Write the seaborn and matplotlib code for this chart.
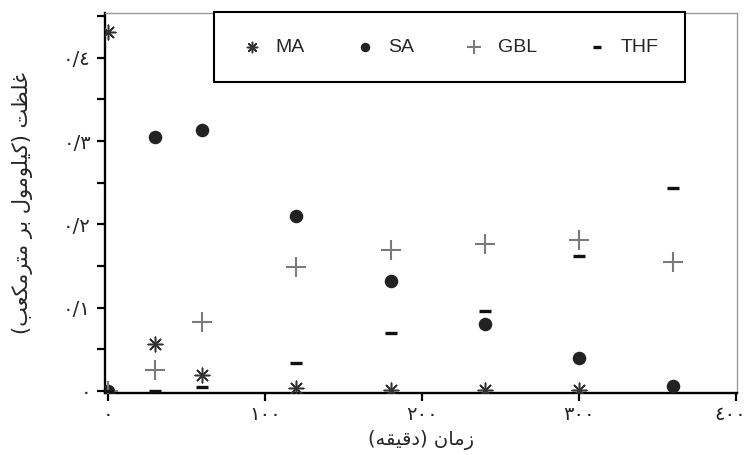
import numpy as np
import pandas as pd
import matplotlib
matplotlib.use("Agg")
import matplotlib.pyplot as plt
import matplotlib.transforms as mtransforms
import seaborn as sns
from matplotlib.ticker import FixedLocator, MultipleLocator

# ---------------- data ----------------
time_min = [0, 30, 60, 120, 180, 240, 300, 360]
ma_conc  = [0.431, 0.057, 0.019, 0.003, 0.001, 0.001, 0.001, np.nan]
sa_conc  = [0.0, 0.305, 0.313, 0.210, 0.132, 0.080, 0.040, 0.006]
gbl_conc = [0.0, 0.025, 0.083, 0.149, 0.169, 0.176, 0.181, 0.155]
thf_conc = [0.0, 0.0, 0.005, 0.034, 0.070, 0.096, 0.162, 0.244]
series_names = ["MA", "SA", "GBL", "THF"]

x_ticks = [0, 100, 200, 300, 400]
x_tick_labels = ["٠", "١٠٠", "٢٠٠", "٣٠٠", "٤٠٠"]
y_ticks = [0.0, 0.1, 0.2, 0.3, 0.4]
y_tick_labels = ["٠", "٠/١", "٠/٢", "٠/٣", "٠/٤"]

x_label = "زمان (دقیقه)"
y_label = "غلظت (کیلومول بر مترمکعب)"

# ------------- minimal Arabic/Persian shaping (matplotlib has no shaping/bidi) -------------
FORMS = {
    'ا': ('\uFE8D', '\uFE8E', None, None),
    'ب': ('\uFE8F', '\uFE90', '\uFE91', '\uFE92'),
    'ت': ('\uFE95', '\uFE96', '\uFE97', '\uFE98'),
    'د': ('\uFEA9', '\uFEAA', None, None),
    'ر': ('\uFEAD', '\uFEAE', None, None),
    'ز': ('\uFEAF', '\uFEB0', None, None),
    'ظ': ('\uFEC5', '\uFEC6', '\uFEC7', '\uFEC8'),
    'ع': ('\uFEC9', '\uFECA', '\uFECB', '\uFECC'),
    'غ': ('\uFECD', '\uFECE', '\uFECF', '\uFED0'),
    'ق': ('\uFED5', '\uFED6', '\uFED7', '\uFED8'),
    'ل': ('\uFEDD', '\uFEDE', '\uFEDF', '\uFEE0'),
    'م': ('\uFEE1', '\uFEE2', '\uFEE3', '\uFEE4'),
    'ن': ('\uFEE5', '\uFEE6', '\uFEE7', '\uFEE8'),
    'ه': ('\uFEE9', '\uFEEA', '\uFEEB', '\uFEEC'),
    'و': ('\uFEED', '\uFEEE', None, None),
    'ک': ('\uFB8E', '\uFB8F', '\uFB90', '\uFB91'),
    'ی': ('\uFBFC', '\uFBFD', '\uFBFE', '\uFBFF'),
}
RIGHT_ONLY = set('ادذرزژو')


def shape_rtl(text):
    out = []
    n = len(text)
    for i, ch in enumerate(text):
        if ch not in FORMS:
            out.append(ch)
            continue
        prev = text[i - 1] if i > 0 else ''
        nxt = text[i + 1] if i + 1 < n else ''
        jp = prev in FORMS and prev not in RIGHT_ONLY
        jn = nxt in FORMS and ch not in RIGHT_ONLY
        iso, fin, ini, med = FORMS[ch]
        if jp and jn:
            f = med
        elif jp:
            f = fin
        elif jn:
            f = ini
        else:
            f = iso
        out.append(f)
    vis = ''.join(reversed(out))
    return vis.translate(str.maketrans('()', ')('))


# ---------------- plot ----------------
sns.set_theme(style="white")
plt.rcParams['font.family'] = ['DejaVu Sans']

fig = plt.figure(figsize=(7.49, 4.55), dpi=100)
ax = fig.add_axes([0.140, 0.1363, 0.844, 0.8351])

sns.scatterplot(x=time_min, y=ma_conc, marker=(8, 2, 0), s=110, color="#333333",
                linewidth=1.1, edgecolor="#333333", label=series_names[0], ax=ax, zorder=3)
sns.scatterplot(x=time_min, y=sa_conc, marker="o", s=95, color="#222222",
                linewidth=0, label=series_names[1], ax=ax, zorder=3)
sns.scatterplot(x=time_min, y=gbl_conc, marker="+", s=200, color="#7a7a7a",
                linewidth=1.5, label=series_names[2], ax=ax, zorder=3)
sns.scatterplot(x=time_min, y=thf_conc, marker="_", s=70, color="#111111",
                linewidth=2.4, label=series_names[3], ax=ax, zorder=3)

ax.set_xlim(-2, 400.6)
ax.set_ylim(-0.0024, 0.4538)

ax.xaxis.set_major_locator(FixedLocator(x_ticks))
ax.set_xticklabels(x_tick_labels, fontsize=14)
ax.yaxis.set_major_locator(FixedLocator(y_ticks))
ax.yaxis.set_minor_locator(MultipleLocator(0.05))
ax.set_yticklabels(y_tick_labels, fontsize=14)

ax.tick_params(axis='both', which='both', direction='out', length=6, width=1.6,
               color='black', bottom=True, left=True)
ax.tick_params(axis='x', pad=3)
ax.tick_params(axis='y', pad=4)

# keep the last x tick label inside the figure
last_lbl = ax.get_xticklabels()[-1]
last_lbl.set_transform(last_lbl.get_transform() +
                       mtransforms.ScaledTranslation(-6 / 100, 0, fig.dpi_scale_trans))

for side in ['left', 'bottom']:
    ax.spines[side].set_color('black')
    ax.spines[side].set_linewidth(1.7)
for side in ['top', 'right']:
    ax.spines[side].set_color('#9a9a9a')
    ax.spines[side].set_linewidth(1.0)

ax.set_xlabel(shape_rtl(x_label), fontsize=14, labelpad=4)
ax.set_ylabel(shape_rtl(y_label), fontsize=15, labelpad=22)

leg = ax.legend(loc='upper center', bbox_to_anchor=(0.545, 1.003), ncol=4,
                borderaxespad=0, frameon=True, fancybox=False, edgecolor='black',
                framealpha=1, borderpad=1.35, columnspacing=2.5, handletextpad=0.6,
                handlelength=1.2, markerscale=0.7,
                prop={'family': 'Liberation Sans', 'size': 14})
leg.get_frame().set_linewidth(1.5)
leg.set_zorder(5)

fig.savefig("out.png", dpi=100)
